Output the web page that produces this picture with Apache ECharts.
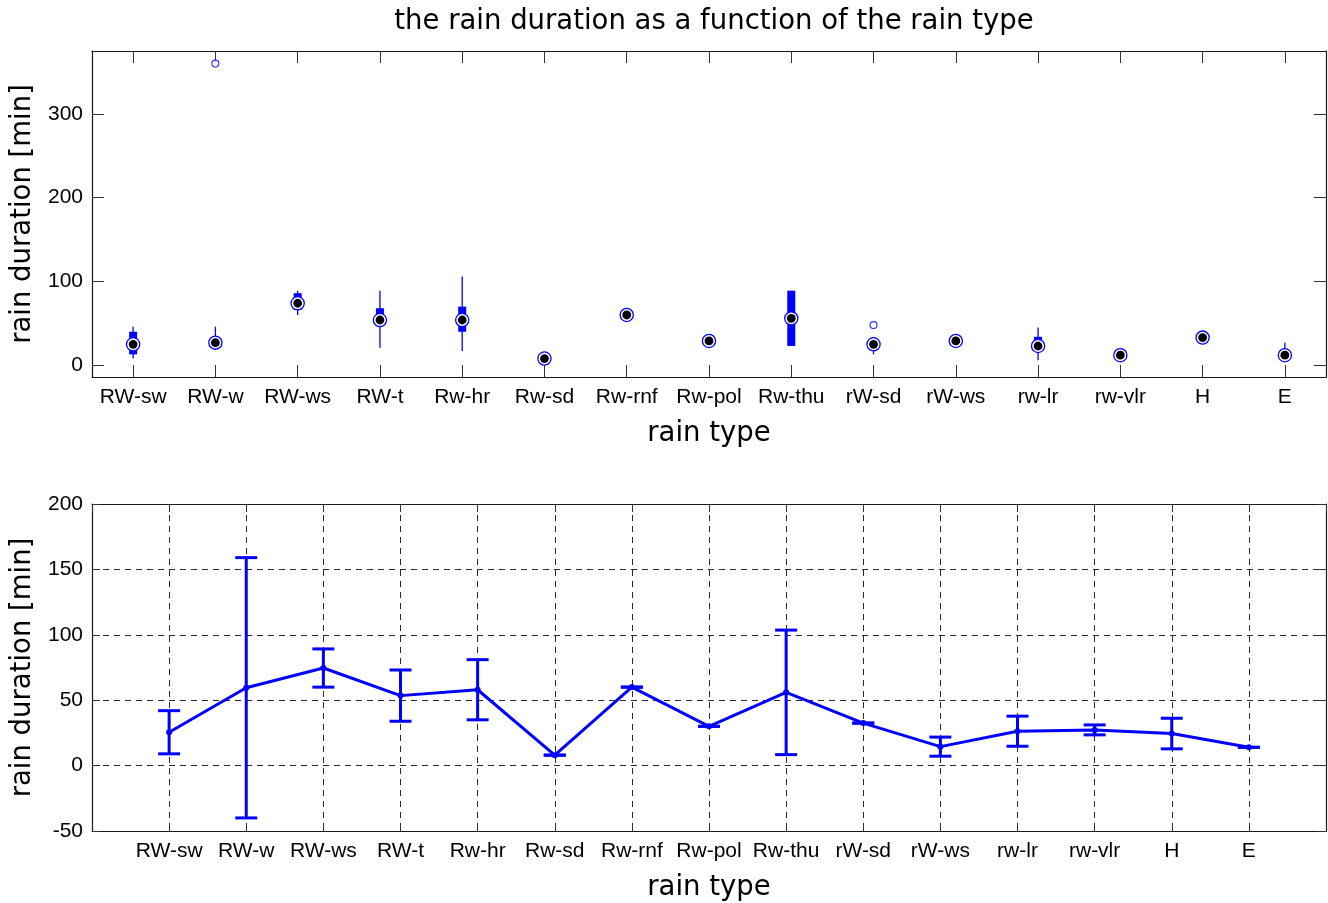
<!DOCTYPE html>
<html>
<head>
<meta charset="utf-8">
<title>rain duration by rain type</title>
<script src="https://cdn.jsdelivr.net/npm/echarts@6/dist/echarts.min.js"></script>
<style>
  html, body { margin: 0; padding: 0; background: #fff; }
  #chart { width: 1328px; height: 903px; }
</style>
</head>
<body>
<div id="chart"></div>
<script>
// Rain types (categories on both x axes)
const rainTypes = ['RW-sw', 'RW-w', 'RW-ws', 'RW-t', 'Rw-hr', 'Rw-sd', 'Rw-rnf', 'Rw-pol',
                   'Rw-thu', 'rW-sd', 'rW-ws', 'rw-lr', 'rw-vlr', 'H', 'E'];

// Box plot statistics per rain type [min]
const whiskerLow  = [8,   24, 60, 21,  17, 8, 60, 29, 23, 13, 29, 6,  12, 33, 10];
const quartile1   = [13,  24, 66, 50,  40, 8, 60, 29, 23, 20, 29, 19, 12, 33, 10];
const medians     = [25,  27, 74, 54,  54, 8, 60, 29, 56, 25, 29, 23, 12, 33, 12];
const quartile3   = [40,  30, 86, 68,  70, 8, 60, 29, 89, 28, 29, 34, 12, 33, 16];
const whiskerHigh = [46,  46, 89, 89, 106, 8, 60, 29, 89, 30, 29, 45, 12, 33, 27];

// Outliers: rain type index and duration
const outlierType  = [1, 9];
const outlierValue = [360, 48];

// Mean duration and standard deviation per rain type [min]
const means = [25.5, 59.5, 74.6, 53.5, 58, 8, 60, 30, 56, 32.5, 14.5, 26.3, 27.3, 24.5, 14];
const stds  = [16.5, 99.5, 14.6, 19.6, 23, 0, 0, 0, 47.6, 0, 7.3, 11.5, 3.8, 11.7, 0];

// Tick values
const topYTicks = [0, 100, 200, 300];

const BLUE = '#0000ff';
const FRAME = '#1a1a1a';
const TICK_FONT = 'Liberation Sans, Arial, sans-serif';
const NAME_FONT = 'DejaVu Sans, sans-serif';

const boxData = rainTypes.map((_, i) =>
  [i, whiskerLow[i], quartile1[i], medians[i], quartile3[i], whiskerHigh[i]]);
const outlierData = outlierType.map((t, i) => [t, outlierValue[i]]);
const meanData = means.map((m, i) => [i + 1, m]);
const errData = means.map((m, i) => [i + 1, m - stds[i], m + stds[i]]);

// Compact box: thin whisker, thick box, ringed median dot
function renderBox(params, api) {
  const c = api.value(0);
  const wl = api.coord([c, api.value(1)]);
  const q1 = api.coord([c, api.value(2)]);
  const md = api.coord([c, api.value(3)]);
  const q3 = api.coord([c, api.value(4)]);
  const wh = api.coord([c, api.value(5)]);
  const x = md[0];
  const children = [];
  if (wl[1] - wh[1] > 0.5) {
    children.push({ type: 'line', shape: { x1: x, y1: wh[1], x2: x, y2: wl[1] },
      style: { stroke: BLUE, lineWidth: 1.3 } });
  }
  if (q1[1] - q3[1] > 0.5) {
    children.push({ type: 'rect', shape: { x: x - 4, y: q3[1], width: 8, height: q1[1] - q3[1] },
      style: { fill: BLUE } });
  }
  children.push({ type: 'circle', shape: { cx: x, cy: md[1], r: 6.6 },
    style: { fill: '#fff', stroke: BLUE, lineWidth: 1.3 } });
  children.push({ type: 'circle', shape: { cx: x, cy: md[1], r: 4.4 },
    style: { fill: '#000' } });
  return { type: 'group', children };
}

// Error bar: vertical line with caps at mean ± std
function renderErr(params, api) {
  const c = api.value(0);
  const lo = api.coord([c, api.value(1)]);
  const hi = api.coord([c, api.value(2)]);
  const x = lo[0];
  const w = 11;
  const st = { stroke: BLUE, lineWidth: 3 };
  return {
    type: 'group',
    children: [
      { type: 'line', shape: { x1: x, y1: hi[1], x2: x, y2: lo[1] }, style: st },
      { type: 'line', shape: { x1: x - w, y1: hi[1], x2: x + w, y2: hi[1] }, style: st },
      { type: 'line', shape: { x1: x - w, y1: lo[1], x2: x + w, y2: lo[1] }, style: st }
    ]
  };
}

const tickLabel = { color: '#000', fontFamily: TICK_FONT, fontSize: 21 };
const nameStyle = { color: '#000', fontFamily: NAME_FONT, fontSize: 27.5 };
const frameLine = { show: true, onZero: false, lineStyle: { color: FRAME, width: 1.2 } };
const gridDash = { show: true, lineStyle: { color: '#2a2a2a', type: [6, 5], width: 1 } };

const chart = echarts.init(document.getElementById('chart'), null, { renderer: 'canvas' });

chart.setOption({
  animation: false,
  backgroundColor: '#fff',
  title: {
    text: 'the rain duration as a function of the rain type',
    left: 709, top: 3, textAlign: 'center',
    textStyle: { color: '#000', fontFamily: NAME_FONT, fontSize: 27.5, fontWeight: 'normal' }
  },
  grid: [
    { left: 92, top: 51, width: 1234, height: 326, containLabel: false },
    { left: 92, top: 504, width: 1234, height: 327, containLabel: false }
  ],
  xAxis: [
    {
      gridIndex: 0, type: 'category', data: rainTypes, position: 'bottom', boundaryGap: true,
      name: 'rain type', nameLocation: 'middle', nameGap: 43, nameTextStyle: nameStyle,
      axisLine: frameLine,
      axisTick: { show: true, inside: true, alignWithLabel: true, length: 12, lineStyle: { color: '#333' } },
      axisLabel: Object.assign({ margin: 10, interval: 0 }, tickLabel),
      splitLine: { show: false }
    },
    {
      gridIndex: 0, type: 'category', data: rainTypes, position: 'top', boundaryGap: true,
      axisLine: frameLine,
      axisTick: { show: true, inside: true, alignWithLabel: true, length: 12, lineStyle: { color: '#333' } },
      axisLabel: { show: false },
      splitLine: { show: false }
    },
    {
      gridIndex: 1, type: 'value', min: 0, max: 16, interval: 1, position: 'bottom',
      name: 'rain type', nameLocation: 'middle', nameGap: 43, nameTextStyle: nameStyle,
      axisLine: frameLine,
      axisTick: { show: true, inside: true, length: 8, lineStyle: { color: '#333' } },
      axisLabel: Object.assign({
        margin: 10,
        showMinLabel: false, showMaxLabel: false,
        formatter: v => (v >= 1 && v <= rainTypes.length) ? rainTypes[v - 1] : ''
      }, tickLabel),
      splitLine: gridDash
    },
    {
      gridIndex: 1, type: 'value', min: 0, max: 16, interval: 1, position: 'top',
      axisLine: frameLine,
      axisTick: { show: true, inside: true, length: 8, lineStyle: { color: '#333' } },
      axisLabel: { show: false },
      splitLine: { show: false }
    }
  ],
  yAxis: [
    {
      gridIndex: 0, type: 'value', min: -14, max: 375, position: 'left',
      name: 'rain duration [min]', nameLocation: 'middle', nameGap: 54, nameTextStyle: nameStyle,
      axisLine: frameLine,
      axisTick: { show: true, inside: true, length: 12, customValues: topYTicks, lineStyle: { color: '#333' } },
      axisLabel: Object.assign({ margin: 9, customValues: topYTicks }, tickLabel),
      splitLine: { show: false }
    },
    {
      gridIndex: 0, type: 'value', min: -14, max: 375, position: 'right',
      axisLine: frameLine,
      axisTick: { show: true, inside: true, length: 12, customValues: topYTicks, lineStyle: { color: '#333' } },
      axisLabel: { show: false },
      splitLine: { show: false }
    },
    {
      gridIndex: 1, type: 'value', min: -50, max: 200, interval: 50, position: 'left',
      name: 'rain duration [min]', nameLocation: 'middle', nameGap: 54, nameTextStyle: nameStyle,
      axisLine: frameLine,
      axisTick: { show: true, inside: true, length: 8, lineStyle: { color: '#333' } },
      axisLabel: Object.assign({ margin: 9 }, tickLabel),
      splitLine: gridDash
    },
    {
      gridIndex: 1, type: 'value', min: -50, max: 200, interval: 50, position: 'right',
      axisLine: frameLine,
      axisTick: { show: true, inside: true, length: 8, lineStyle: { color: '#333' } },
      axisLabel: { show: false },
      splitLine: { show: false }
    }
  ],
  series: [
    {
      type: 'custom', name: 'box', xAxisIndex: 0, yAxisIndex: 0,
      renderItem: renderBox, data: boxData, z: 3
    },
    {
      type: 'scatter', name: 'outliers', xAxisIndex: 0, yAxisIndex: 0,
      data: outlierData, symbol: 'circle', symbolSize: 7,
      itemStyle: { color: '#fff', borderColor: BLUE, borderWidth: 1.2 }, z: 4
    },
    {
      type: 'custom', name: 'std', xAxisIndex: 2, yAxisIndex: 2,
      renderItem: renderErr, data: errData, z: 3
    },
    {
      type: 'line', name: 'mean', xAxisIndex: 2, yAxisIndex: 2,
      data: meanData, symbol: 'circle', symbolSize: 6, showSymbol: true,
      lineStyle: { color: BLUE, width: 3 }, itemStyle: { color: BLUE }, z: 4
    }
  ]
});
</script>
</body>
</html>
